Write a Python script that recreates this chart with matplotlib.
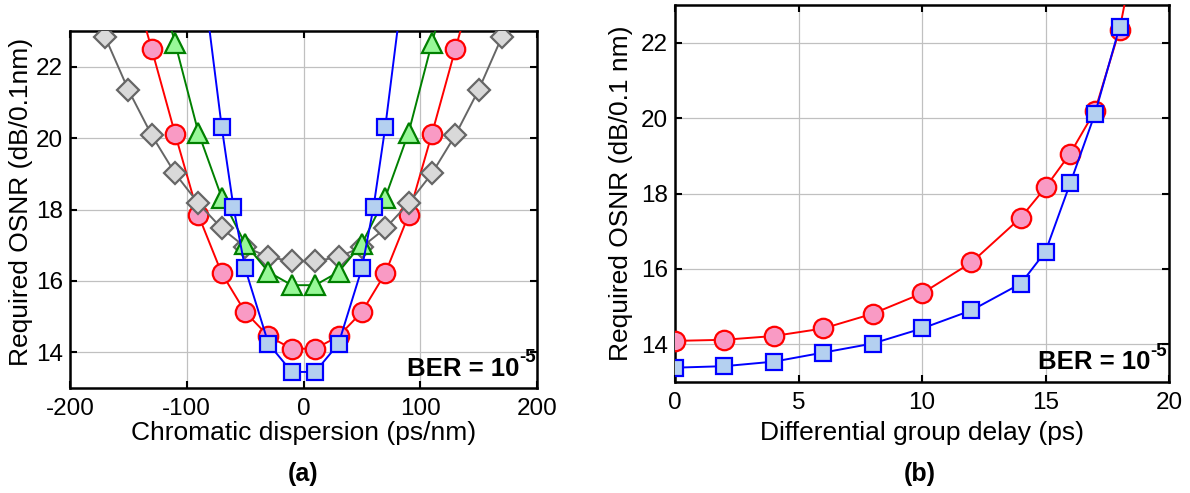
import matplotlib
matplotlib.use("Agg")
import matplotlib.pyplot as plt

plt.rcParams['font.family'] = ['Liberation Sans', 'DejaVu Sans']
plt.rcParams['axes.unicode_minus'] = False

# ---- (a) required OSNR vs chromatic dispersion ----
cd_red = [-150, -130, -110, -90, -70, -50, -30, -10, 10, 30, 50, 70, 90, 110, 130, 150]
osnr_red = [24.8, 22.49, 20.12, 17.84, 16.21, 15.13, 14.45, 14.10,
            14.10, 14.45, 15.13, 16.21, 17.84, 20.12, 22.49, 24.8]

cd_gray = [-170, -150, -130, -110, -90, -70, -50, -30, -10,
           10, 30, 50, 70, 90, 110, 130, 150, 170]
osnr_gray = [22.84, 21.35, 20.08, 19.01, 18.17, 17.47, 16.95, 16.67, 16.55,
             16.55, 16.67, 16.95, 17.47, 18.17, 19.01, 20.08, 21.35, 22.84]

cd_green = [-130, -110, -90, -70, -50, -30, -10, 10, 30, 50, 70, 90, 110, 130]
osnr_green = [25.0, 22.67, 20.15, 18.33, 17.04, 16.25, 15.88,
              15.88, 16.25, 17.04, 18.33, 20.15, 22.67, 25.0]

cd_blue = [-90, -70, -60, -50, -30, -10, 10, 30, 50, 60, 70, 90]
osnr_blue = [25.5, 20.30, 18.07, 16.35, 14.24, 13.45,
             13.45, 14.24, 16.35, 18.07, 20.30, 25.5]

# ---- (b) required OSNR vs differential group delay ----
dgd_red = [0, 2, 4, 6, 8, 10, 12, 14, 15, 16, 17, 18, 19]
osnr_dgd_red = [14.09, 14.12, 14.22, 14.42, 14.81, 15.35, 16.17,
                17.36, 18.16, 19.06, 20.19, 22.35, 25.7]
dgd_blue = [0, 2, 4, 6, 8, 10, 12, 14, 15, 16, 17, 18]
osnr_dgd_blue = [13.38, 13.42, 13.54, 13.78, 14.02, 14.42, 14.90,
                 15.61, 16.46, 18.27, 20.11, 22.42]

cd_ticks = [-200, -100, 0, 100, 200]
dgd_ticks = [0, 5, 10, 15, 20]
osnr_ticks = [14, 16, 18, 20, 22]

RED = dict(color='#ff0000', marker='o', ms=14, mfc='#f99ac4', mec='#ff0000', mew=1.6, lw=1.4)
GRAY = dict(color='#666666', marker='D', ms=11, mfc='#d9d9d9', mec='#666666', mew=1.6, lw=1.4)
GREEN = dict(color='#008000', marker='^', ms=15, mfc='#98f898', mec='#008000', mew=1.6, lw=1.4)
BLUE = dict(color='#0000ff', marker='s', ms=11.5, mfc='#b4d0f0', mec='#0000ff', mew=1.6, lw=1.4)

TICK_FS = 17.5
LABEL_FS = 19

fig = plt.figure(figsize=(11.9, 4.93), dpi=100)
ax1 = fig.add_axes([70 / 1190, 1 - 388 / 493, 467 / 1190, 357 / 493])
ax2 = fig.add_axes([675 / 1190, 1 - 382 / 493, 494 / 1190, 377 / 493])


def style(ax):
    ax.grid(True, color='#c0c0c0', lw=0.9)
    ax.set_axisbelow(True)
    for s in ax.spines.values():
        s.set_linewidth(1.8)
    ax.tick_params(direction='in', top=True, right=True, length=5, width=1.5,
                   labelsize=TICK_FS)
    ax.tick_params(axis='x', pad=7)
    ax.tick_params(axis='y', pad=5)
    ax.set_ylim(13, 23)
    ax.set_yticks(osnr_ticks)


def ber_label(ax):
    main = ax.text(0.962, 0.02, 'BER = 10', transform=ax.transAxes, ha='right', va='bottom',
                   fontsize=18.5, fontweight='bold', zorder=10)
    ax.annotate('-5', xy=(1.0, 0.62), xycoords=main, ha='left', va='bottom',
                fontsize=13.5, fontweight='bold', zorder=10)


ax1.plot(cd_red, osnr_red, zorder=3, **RED)
ax1.plot(cd_gray, osnr_gray, zorder=4, **GRAY)
ax1.plot(cd_green, osnr_green, zorder=5, **GREEN)
ax1.plot(cd_blue, osnr_blue, zorder=6, **BLUE)
style(ax1)
ax1.set_xlim(-200, 200)
ax1.set_xticks(cd_ticks)
ax1.set_xlabel('Chromatic dispersion (ps/nm)', fontsize=LABEL_FS)
ax1.set_ylabel('Required OSNR (dB/0.1nm)', fontsize=LABEL_FS)
ax1.xaxis.set_label_coords(0.5, -0.093)
ax1.yaxis.set_label_coords(-0.079, 0.52)
ber_label(ax1)

ax2.plot(dgd_red, osnr_dgd_red, zorder=3, **RED)
ax2.plot(dgd_blue, osnr_dgd_blue, zorder=4, **BLUE)
style(ax2)
ax2.set_xlim(0, 20)
ax2.set_xticks(dgd_ticks)
ax2.set_xlabel('Differential group delay (ps)', fontsize=LABEL_FS)
ax2.set_ylabel('Required OSNR (dB/0.1 nm)', fontsize=LABEL_FS)
ax2.xaxis.set_label_coords(0.5, -0.104)
ax2.yaxis.set_label_coords(-0.085, 0.5)
ber_label(ax2)

fig.text(303 / 1190, 1 - 474 / 493, '(a)', ha='center', va='center', fontsize=18, fontweight='bold')
fig.text(920 / 1190, 1 - 474 / 493, '(b)', ha='center', va='center', fontsize=18, fontweight='bold')

fig.savefig('out.png', dpi=100, facecolor='white')
